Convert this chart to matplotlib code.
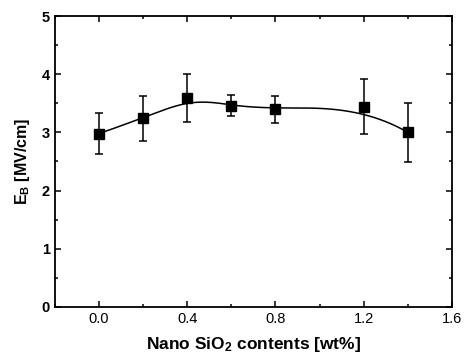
import numpy as np
import matplotlib
matplotlib.use('Agg')
import matplotlib.pyplot as plt
from matplotlib.ticker import MultipleLocator

plt.rcParams['font.family'] = ['Liberation Sans', 'DejaVu Sans']
plt.rcParams['mathtext.default'] = 'regular'

# data
sio2 = [0.0, 0.2, 0.4, 0.6, 0.8, 1.2, 1.4]
eb = [2.98, 3.24, 3.60, 3.46, 3.40, 3.44, 3.00]
err_lo = [0.36, 0.39, 0.42, 0.18, 0.24, 0.47, 0.51]
err_hi = [0.35, 0.39, 0.40, 0.18, 0.23, 0.47, 0.50]


def bspline(px, py, n=300):
    # clamped cubic B-spline, data points used as control points
    k = 3
    m = len(px)
    knots = np.concatenate([np.zeros(k), np.arange(m - k + 1), np.full(k, m - k)]).astype(float)
    t = np.linspace(0, m - k, n)
    t[-1] -= 1e-9

    def basis(i, p, t):
        if p == 0:
            return ((knots[i] <= t) & (t < knots[i + 1])).astype(float)
        a = 0.0
        b = 0.0
        if knots[i + p] != knots[i]:
            a = (t - knots[i]) / (knots[i + p] - knots[i]) * basis(i, p - 1, t)
        if knots[i + p + 1] != knots[i + 1]:
            b = (knots[i + p + 1] - t) / (knots[i + p + 1] - knots[i + 1]) * basis(i + 1, p - 1, t)
        return a + b

    B = np.array([basis(i, k, t) for i in range(m)])
    return B.T @ np.asarray(px), B.T @ np.asarray(py)


fig = plt.figure(figsize=(4.65, 3.58), dpi=100)
ax = fig.add_axes([0.118, 0.143, 0.854, 0.812])

cx, cy = bspline(sio2, eb)
ax.plot(cx, cy, color='black', lw=1.1)
ax.errorbar(sio2, eb, yerr=[err_lo, err_hi], fmt='s', color='black',
            ms=7, ecolor='black', elinewidth=1.1, capsize=3, capthick=1.1)

ax.set_xlim(-0.2, 1.6)
ax.set_ylim(0, 5)
ax.xaxis.set_minor_locator(MultipleLocator(0.2))
ax.yaxis.set_major_locator(MultipleLocator(1))
ax.yaxis.set_minor_locator(MultipleLocator(0.5))
ax.set_xticks([0.0, 0.4, 0.8, 1.2, 1.6])
ax.set_xticklabels(['0.0', '0.4', '0.8', '1.2', '1.6'])
ax.tick_params(which='both', direction='in', top=True, right=True, width=1.1)
ax.tick_params(which='major', length=4, labelsize=10.5)
ax.tick_params(which='minor', length=2.5)
for lab in ax.get_yticklabels():
    lab.set_fontweight('bold')
for s in ax.spines.values():
    s.set_linewidth(1.3)

ax.set_xlabel('Nano SiO$_2$ contents [wt%]', fontsize=12.5, fontweight='bold', labelpad=7)
ax.set_ylabel('E$_B$ [MV/cm]', fontsize=11.5, fontweight='bold', labelpad=7)

fig.savefig('out.png', dpi=100)
